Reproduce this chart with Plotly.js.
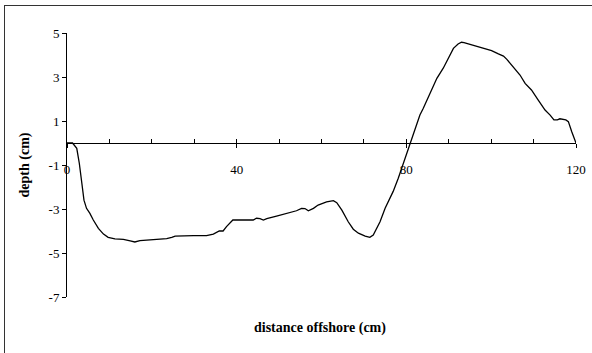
<!DOCTYPE html>
<html>
<head>
<meta charset="utf-8">
<script src="https://cdn.plot.ly/plotly-3.0.1.min.js"></script>
<style>
  html, body { margin: 0; padding: 0; background: #fff; }
  #wrap { position: relative; width: 592px; height: 353px; overflow: hidden; }
  #chart { position: absolute; left: 0; top: 0; width: 592px; height: 353px; }
  #frame { position: absolute; left: 4px; top: 5px; width: 600px; height: 360px;
           border-left: 1px solid #333; border-top: 1px solid #333; pointer-events: none; }
</style>
</head>
<body>
<div id="wrap">
  <div id="chart"></div>
  <div id="frame"></div>
</div>
<script>
// Beach profile: distance offshore (cm) vs bed depth (cm)
const distance = [0, 1.3, 2.3, 2.9, 3.5, 4.0, 4.6, 5.4, 6.2, 7.4, 8.6, 9.7, 11.3, 13.3, 14.9, 16.0,
  17.2, 19.6, 21.1, 23.5, 24.7, 25.5, 29.8, 32.9, 34.5, 35.9, 36.8, 37.6, 39.1, 43.9, 44.7, 45.5,
  46.3, 47.1, 49.4, 51.8, 54.1, 55.3, 56.1, 56.9, 58.1, 59.2, 61.2, 62.8, 63.6, 64.8, 66.3, 67.5,
  68.7, 70.3, 71.4, 72.2, 73.8, 75.0, 75.7, 76.9, 78.1, 79.0, 80.0, 80.9, 82.0, 83.2, 84.0, 85.2,
  86.4, 87.2, 88.7, 89.9, 91.1, 92.2, 93.0, 93.6, 97.4, 100.1, 101.7, 102.9, 103.7, 105.2, 106.8,
  108.0, 109.5, 111.1, 112.7, 113.9, 114.8, 115.6, 116.2, 117.6, 118.2, 119.0, 120];
const depth = [0, 0, -0.24, -0.92, -1.83, -2.6, -2.97, -3.2, -3.5, -3.88, -4.14, -4.29, -4.36, -4.38, -4.45, -4.5,
  -4.44, -4.41, -4.38, -4.35, -4.29, -4.23, -4.21, -4.21, -4.14, -4.0, -4.0, -3.8, -3.5, -3.5, -3.42, -3.44,
  -3.5, -3.44, -3.32, -3.2, -3.08, -2.97, -2.98, -3.08, -2.97, -2.82, -2.68, -2.62, -2.71, -3.05, -3.58, -3.92,
  -4.1, -4.23, -4.29, -4.18, -3.58, -2.97, -2.67, -2.2, -1.6, -1.1, -0.45, 0, 0.67, 1.27, 1.58, 2.1,
  2.64, 2.94, 3.4, 3.85, 4.3, 4.5, 4.58, 4.56, 4.35, 4.2, 4.05, 3.95, 3.8, 3.44, 3.09,
  2.71, 2.41, 1.95, 1.5, 1.27, 1.05, 1.05, 1.1, 1.05, 0.97, 0.51, 0];

const xMinorTicks = [0, 10, 20, 30, 40, 50, 60, 70, 80, 90, 100, 110, 120];
const xTicks = [0, 40, 80, 120];
const yTicks = [5, 3, 1, -1, -3, -5, -7];

const tickFont = { family: 'Liberation Serif, Times New Roman, serif', size: 13, color: '#000' };
const titleFont = { family: 'Liberation Serif, Times New Roman, serif', size: 14, color: '#000' };

const traces = [
  { x: distance, y: depth, type: 'scatter', mode: 'lines',
    line: { color: '#000', width: 1.3 }, hoverinfo: 'skip', showlegend: false },
  // carries the downward half of the labelled tick marks on the same baseline
  { x: [0, 120], y: [0, 0], xaxis: 'x2', type: 'scatter', mode: 'lines',
    line: { color: 'rgba(0,0,0,0)', width: 0 }, hoverinfo: 'skip', showlegend: false }
];

const layout = {
  width: 592, height: 353,
  margin: { l: 67, r: 16, t: 33, b: 56 },
  paper_bgcolor: '#fff', plot_bgcolor: '#fff',
  font: tickFont,
  showlegend: false,
  xaxis: {
    range: [0, 120], anchor: 'free', position: 7 / 12,
    tickvals: xMinorTicks,
    ticktext: xMinorTicks.map(v => xTicks.includes(v) ? String(v) : ''),
    ticks: 'inside', ticklen: 4, tickwidth: 1, tickcolor: '#000',
    ticklabelstandoff: 14,
    showline: true, linecolor: '#000', linewidth: 1,
    showgrid: false, zeroline: false,
    tickfont: tickFont,
    title: { text: '' }
  },
  xaxis2: {
    range: [0, 120], overlaying: 'x', anchor: 'free', position: 7 / 12, side: 'bottom',
    tickvals: xTicks,
    ticks: 'outside', ticklen: 4, tickwidth: 1, tickcolor: '#000',
    showticklabels: false, showline: false, showgrid: false, zeroline: false
  },
  yaxis: {
    range: [-7, 5],
    tickvals: yTicks, ticktext: yTicks.map(String),
    ticks: 'outside', ticklen: 4, tickwidth: 1, tickcolor: '#000',
    showline: true, linecolor: '#000', linewidth: 1,
    showgrid: false, zeroline: false,
    tickfont: tickFont,
    title: { text: '<b>depth (cm)</b>', font: titleFont, standoff: 15 }
  },
  annotations: [
    { text: '<b>distance offshore (cm)</b>', xref: 'paper', yref: 'paper',
      x: 0.497, y: -0.117, xanchor: 'center', yanchor: 'middle',
      showarrow: false, font: titleFont }
  ]
};

Plotly.newPlot('chart', traces, layout, { displayModeBar: false, staticPlot: true });
</script>
</body>
</html>
